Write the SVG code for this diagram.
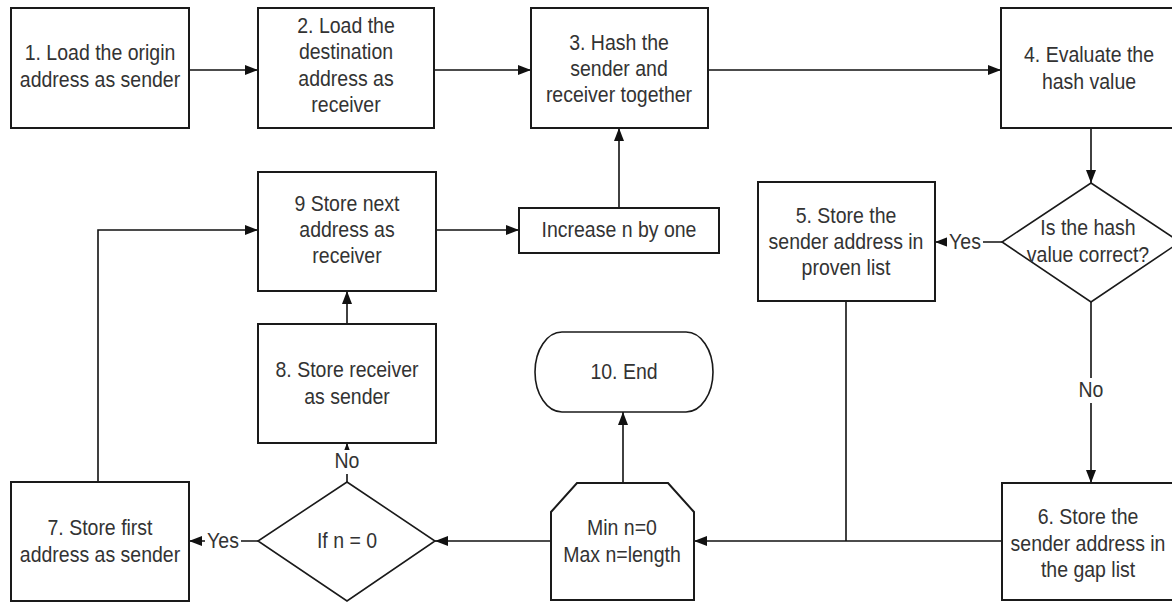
<svg xmlns="http://www.w3.org/2000/svg" width="1172" height="603" viewBox="0 0 1172 603">
  <style>
    .box { fill: #ffffff; stroke: #1a1a1a; stroke-width: 2; }
    .shape { fill: #ffffff; stroke: #1a1a1a; stroke-width: 1.6; }
    .conn { fill: none; stroke: #111111; stroke-width: 1.6; }
    .lbl { font-family: "Liberation Sans", Arial, sans-serif; font-size: 19.5px; fill: #333333; text-anchor: middle; }
    .tagbg { fill: #ffffff; stroke: none; }
  </style>
  <defs>
    <marker id="arrow" markerUnits="userSpaceOnUse" markerWidth="14" markerHeight="11" refX="13" refY="5.5" orient="auto">
      <path d="M0,0.5 L13,5.5 L0,10.5 z" fill="#111111"/>
    </marker>
  </defs>

  <rect x="0" y="0" width="1172" height="603" fill="#ffffff"/>

  <!-- connectors -->
  <g id="connectors">
    <line class="conn" x1="189" y1="70" x2="258" y2="70" marker-end="url(#arrow)"/>
    <line class="conn" x1="434" y1="70" x2="531" y2="70" marker-end="url(#arrow)"/>
    <line class="conn" x1="708" y1="70" x2="1001" y2="70" marker-end="url(#arrow)"/>
    <line class="conn" x1="1091" y1="128" x2="1091" y2="183" marker-end="url(#arrow)"/>
    <line class="conn" x1="1002" y1="242" x2="935" y2="242" marker-end="url(#arrow)"/>
    <line class="conn" x1="1091" y1="302" x2="1091" y2="483" marker-end="url(#arrow)"/>
    <line class="conn" x1="846" y1="301" x2="846" y2="541"/>
    <line class="conn" x1="1002" y1="541" x2="694" y2="541" marker-end="url(#arrow)"/>
    <line class="conn" x1="623" y1="483" x2="623" y2="412" marker-end="url(#arrow)"/>
    <line class="conn" x1="551" y1="541" x2="435" y2="541" marker-end="url(#arrow)"/>
    <line class="conn" x1="258" y1="541" x2="189" y2="541" marker-end="url(#arrow)"/>
    <line class="conn" x1="347" y1="482" x2="347" y2="443" marker-end="url(#arrow)"/>
    <line class="conn" x1="347" y1="324" x2="347" y2="291" marker-end="url(#arrow)"/>
    <polyline class="conn" points="98,482 98,230 258,230" marker-end="url(#arrow)"/>
    <line class="conn" x1="436" y1="230" x2="519" y2="230" marker-end="url(#arrow)"/>
    <line class="conn" x1="619" y1="208" x2="619" y2="128" marker-end="url(#arrow)"/>

    <!-- branch labels -->
    <g id="label-yes-hash">
      <rect class="tagbg" x="947" y="232" width="36" height="20"/>
      <text class="lbl" transform="matrix(1 0 0 1.12 965 248.5)">Yes</text>
    </g>
    <g id="label-no-hash">
      <rect class="tagbg" x="1077" y="378" width="28" height="25"/>
      <text class="lbl" transform="matrix(1 0 0 1.12 1091 397)">No</text>
    </g>
    <g id="label-yes-n">
      <rect class="tagbg" x="205" y="531" width="36" height="20"/>
      <text class="lbl" transform="matrix(1 0 0 1.12 223 548)">Yes</text>
    </g>
    <g id="label-no-n">
      <rect class="tagbg" x="333" y="450" width="28" height="24"/>
      <text class="lbl" transform="matrix(1 0 0 1.12 347 468)">No</text>
    </g>
  </g>

  <!-- 1 -->
  <g id="node-load-origin">
    <rect class="box" x="11" y="8" width="178" height="120"/>
    <g transform="translate(100,66.5) scale(1,1.12)">
      <text class="lbl"><tspan x="0" y="-5.6">1. Load the origin</tspan><tspan x="0" y="18.1">address as sender</tspan></text>
    </g>
  </g>

  <!-- 2 -->
  <g id="node-load-destination">
    <rect class="box" x="258" y="8" width="176" height="120"/>
    <g transform="translate(346,65.5) scale(1,1.12)">
      <text class="lbl"><tspan x="0" y="-29.2">2. Load the</tspan><tspan x="0" y="-5.6">destination</tspan><tspan x="0" y="18.1">address as</tspan><tspan x="0" y="41.7">receiver</tspan></text>
    </g>
  </g>

  <!-- 3 -->
  <g id="node-hash">
    <rect class="box" x="531" y="8" width="177" height="120"/>
    <g transform="translate(619,69) scale(1,1.12)">
      <text class="lbl"><tspan x="0" y="-17.4">3. Hash the</tspan><tspan x="0" y="6.25">sender and</tspan><tspan x="0" y="29.9">receiver together</tspan></text>
    </g>
  </g>

  <!-- 4 -->
  <g id="node-evaluate">
    <rect class="box" x="1001" y="8" width="190" height="120"/>
    <g transform="translate(1089,68.5) scale(1,1.12)">
      <text class="lbl"><tspan x="0" y="-5.6">4. Evaluate the</tspan><tspan x="0" y="18.1">hash value</tspan></text>
    </g>
  </g>

  <!-- decision: hash correct -->
  <g id="node-hash-check">
    <polygon class="shape" points="1091,183 1180,242 1091,302 1002,242"/>
    <g transform="translate(1088,241.5) scale(1,1.12)">
      <text class="lbl"><tspan x="0" y="-5.6">Is the hash</tspan><tspan x="0" y="18.1">value correct?</tspan></text>
    </g>
  </g>

  <!-- 5 -->
  <g id="node-proven-list">
    <rect class="box" x="758" y="182" width="177" height="119"/>
    <g transform="translate(846,242) scale(1,1.12)">
      <text class="lbl"><tspan x="0" y="-17.4">5. Store the</tspan><tspan x="0" y="6.25">sender address in</tspan><tspan x="0" y="29.9">proven list</tspan></text>
    </g>
  </g>

  <!-- 6 -->
  <g id="node-gap-list">
    <rect class="box" x="1002" y="483" width="190" height="117"/>
    <g transform="translate(1088,543.5) scale(1,1.12)">
      <text class="lbl"><tspan x="0" y="-17.4">6. Store the</tspan><tspan x="0" y="6.25">sender address in</tspan><tspan x="0" y="29.9">the gap list</tspan></text>
    </g>
  </g>

  <!-- loop limit -->
  <g id="node-loop-limit">
    <polygon class="box" points="577,483 668,483 694,512 694,600 551,600 551,512"/>
    <g transform="translate(622,541.5) scale(1,1.12)">
      <text class="lbl"><tspan x="0" y="-5.6">Min n=0</tspan><tspan x="0" y="18.1">Max n=length</tspan></text>
    </g>
  </g>

  <!-- 10 -->
  <g id="node-end">
    <rect class="shape" x="535" y="332" width="178" height="80" rx="27" ry="40"/>
    <g transform="translate(624,372) scale(1,1.12)">
      <text class="lbl"><tspan x="0" y="6.25">10. End</tspan></text>
    </g>
  </g>

  <!-- decision: n = 0 -->
  <g id="node-n-check">
    <polygon class="shape" points="347,482 435,541 347,601 258,541"/>
    <g transform="translate(347,541) scale(1,1.12)">
      <text class="lbl"><tspan x="0" y="6.25">If n = 0</tspan></text>
    </g>
  </g>

  <!-- 7 -->
  <g id="node-first-sender">
    <rect class="box" x="11" y="482" width="178" height="119"/>
    <g transform="translate(100,541.5) scale(1,1.12)">
      <text class="lbl"><tspan x="0" y="-5.6">7. Store first</tspan><tspan x="0" y="18.1">address as sender</tspan></text>
    </g>
  </g>

  <!-- 8 -->
  <g id="node-receiver-as-sender">
    <rect class="box" x="258" y="324" width="178" height="119"/>
    <g transform="translate(347,383.5) scale(1,1.12)">
      <text class="lbl"><tspan x="0" y="-5.6">8. Store receiver</tspan><tspan x="0" y="18.1">as sender</tspan></text>
    </g>
  </g>

  <!-- 9 -->
  <g id="node-next-receiver">
    <rect class="box" x="258" y="172" width="178" height="119"/>
    <g transform="translate(347,230) scale(1,1.12)">
      <text class="lbl"><tspan x="0" y="-17.4">9 Store next</tspan><tspan x="0" y="6.25">address as</tspan><tspan x="0" y="29.9">receiver</tspan></text>
    </g>
  </g>

  <!-- counter step -->
  <g id="node-increase-n">
    <rect class="box" x="519" y="208" width="200" height="45"/>
    <g transform="translate(619,230) scale(1,1.12)">
      <text class="lbl"><tspan x="0" y="6.25">Increase n by one</tspan></text>
    </g>
  </g>
</svg>
